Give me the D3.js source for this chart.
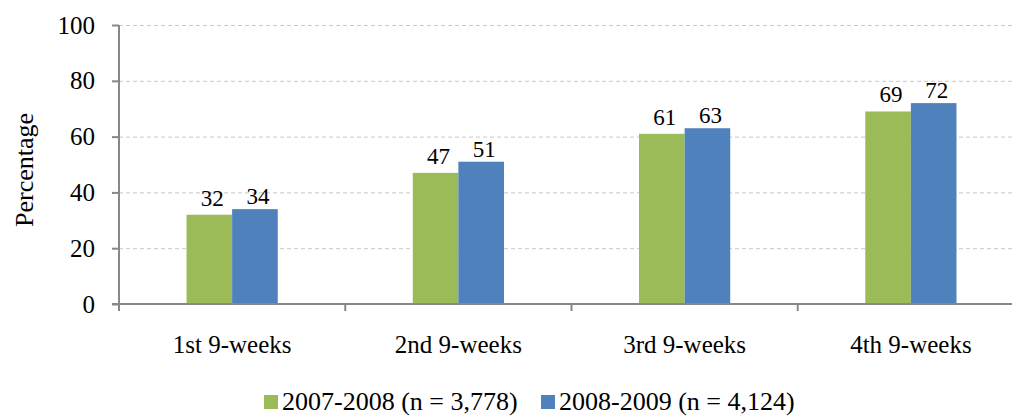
<!DOCTYPE html>
<html>
<head>
<meta charset="utf-8">
<script src="https://cdn.jsdelivr.net/npm/d3@7"></script>
<style>
    body { margin: 0; background: #fff; }
    svg { display: block; font-family: "Liberation Serif", "Times New Roman", serif; }
</style>
</head>
<body>
<svg id="chart" width="1012" height="416"></svg>
<script>
const categories = ["1st 9-weeks", "2nd 9-weeks", "3rd 9-weeks", "4th 9-weeks"];
const seriesNames = ["2007-2008 (n = 3,778)", "2008-2009 (n = 4,124)"];
const values0708 = [32, 47, 61, 69];
const values0809 = [34, 51, 63, 72];
const yTicks = [0, 20, 40, 60, 80, 100];
const colors = ["#9bbb59", "#4f81bd"];

(function() {
    const svg = d3.select("#chart");
    const plotLeft = 119, plotRight = 1024, plotTop = 25, plotBottom = 304;
    const serif = "Liberation Serif";

    const x = d3.scaleBand()
        .domain(categories)
        .range([plotLeft, plotRight])
        .paddingInner(0)
        .paddingOuter(0);

    // two bars side by side, centred in each category
    const inner = d3.scaleBand()
        .domain([0, 1])
        .range([0, x.bandwidth()])
        .paddingInner(0)
        .paddingOuter(1.48)
        .align(0.5);

    const y = d3.scaleLinear().domain([0, 100]).range([plotBottom, plotTop]);

    // dashed gridlines
    svg.append("g")
        .selectAll("line")
        .data(yTicks.filter(d => d > 0))
        .enter()
        .append("line")
        .attr("x1", plotLeft)
        .attr("x2", plotRight)
        .attr("y1", d => y(d) + 0.5)
        .attr("y2", d => y(d) + 0.5)
        .attr("stroke", "#c8c8c8")
        .attr("stroke-width", 1)
        .attr("stroke-dasharray", "4,3");

    // bars
    const rows = categories.map((c, i) => ({cat: c, vals: [values0708[i], values0809[i]]}));

    const group = svg.append("g")
        .selectAll("g")
        .data(rows)
        .enter()
        .append("g")
        .attr("transform", d => "translate(" + x(d.cat) + ",0)");

    group.selectAll("rect")
        .data(d => d.vals.map((v, k) => ({v: v, k: k})))
        .enter()
        .append("rect")
        .attr("x", d => inner(d.k))
        .attr("width", inner.bandwidth())
        .attr("y", d => y(d.v))
        .attr("height", d => y(0) - y(d.v))
        .attr("fill", d => colors[d.k]);

    // value labels, green ones sit a bit higher like in the original
    const labelGap = [9, 5];
    group.selectAll("text")
        .data(d => d.vals.map((v, k) => ({v: v, k: k})))
        .enter()
        .append("text")
        .attr("x", d => inner(d.k) + inner.bandwidth() / 2 + 3)
        .attr("y", d => y(d.v) - labelGap[d.k])
        .attr("text-anchor", "middle")
        .attr("font-size", 23)
        .attr("fill", "#000")
        .text(d => d.v);

    // y axis
    const yAxis = svg.append("g")
        .attr("transform", "translate(" + plotLeft + ",0)")
        .call(d3.axisLeft(y).tickValues(yTicks).tickSize(7).tickPadding(17));
    yAxis.selectAll("text").attr("font-size", 25).attr("fill", "#000")
        .attr("font-family", serif);
    yAxis.select(".domain").attr("stroke", "#888").attr("stroke-width", 2)
        .attr("d", "M0," + plotTop + "V" + (plotBottom + 7));
    yAxis.selectAll(".tick line").attr("stroke", "#888").attr("stroke-width", 2);

    // x axis
    const xAxis = svg.append("g")
        .attr("transform", "translate(0," + plotBottom + ")");
    xAxis.append("line")
        .attr("x1", plotLeft - 7)
        .attr("x2", plotRight)
        .attr("stroke", "#888")
        .attr("stroke-width", 2);
    xAxis.selectAll(".sep")
        .data(categories.slice(1))
        .enter()
        .append("line")
        .attr("class", "sep")
        .attr("x1", d => x(d))
        .attr("x2", d => x(d))
        .attr("y1", 0)
        .attr("y2", 7)
        .attr("stroke", "#888")
        .attr("stroke-width", 2);
    xAxis.selectAll(".lbl")
        .data(categories)
        .enter()
        .append("text")
        .attr("class", "lbl")
        .attr("x", d => x(d) + x.bandwidth() / 2)
        .attr("y", 49)
        .attr("text-anchor", "middle")
        .attr("font-size", 25)
        .text(d => d);

    // y title
    svg.append("text")
        .attr("transform", "translate(33,170) rotate(-90)")
        .attr("text-anchor", "middle")
        .attr("font-size", 26)
        .text("Percentage");

    // legend (kept just inside the bottom edge)
    const legendX = [264, 541];
    const legend = svg.append("g")
        .selectAll("g")
        .data(seriesNames)
        .enter()
        .append("g")
        .attr("transform", (d, i) => "translate(" + legendX[i] + ",395)");
    legend.append("rect")
        .attr("width", 14)
        .attr("height", 14)
        .attr("fill", (d, i) => colors[i]);
    legend.append("text")
        .attr("x", 18)
        .attr("y", 15)
        .attr("font-size", 26)
        .text(d => d);
})();
</script>
</body>
</html>
